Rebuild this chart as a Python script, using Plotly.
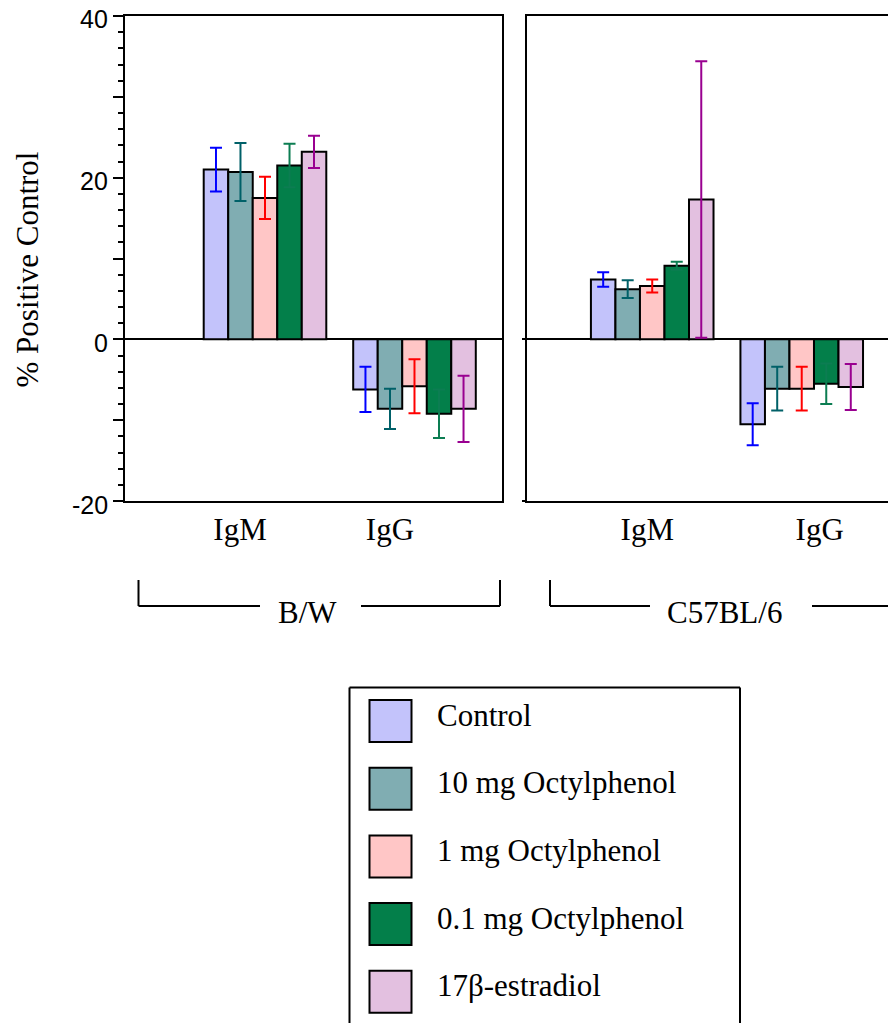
import plotly.graph_objects as go

# ---------------- data ----------------
categories = ["IgM", "IgG"]
series_names = ["Control", "10 mg Octylphenol", "1 mg Octylphenol",
                "0.1 mg Octylphenol", "17\u03b2-estradiol"]
fill_colors = ["#C3C3FB", "#80ADB2", "#FFC6C6", "#037F4A", "#E3C0E0"]
err_colors = ["#0000FF", "#006068", "#FF0000", "#0C7D52", "#990090"]

# B/W strain: mean and error for each series (order as series_names)
bw_igm = [21.0, 20.7, 17.5, 21.5, 23.2]
bw_igm_err = [2.7, 3.6, 2.6, 2.7, 2.0]
bw_igg = [-6.2, -8.6, -5.8, -9.2, -8.6]
bw_igg_err = [2.8, 2.5, 3.35, 3.0, 4.1]

# C57BL/6 strain
c57_igm = [7.4, 6.2, 6.6, 9.1, 17.3]
c57_igm_err = [0.9, 1.1, 0.8, 0.5, 17.1]
c57_igg = [-10.5, -6.1, -6.1, -5.5, -5.9]
c57_igg_err = [2.6, 2.7, 2.7, 2.5, 2.85]

group_pos = [1, 2]
bw_label_pos = [0.833, 1.836]
c57_label_pos = [0.967, 2.12]
strain_names = ["B/W", "C57BL/6"]

y_tickvals = [-20, -10, 0, 10, 20, 30, 40]
y_label_vals = [-20, 0, 20, 40]
y_label_text = ["-20", "0", "20", "40"]

# ---------------- layout helpers ----------------
# the page body margin is removed by a post script, so figure = window
W, H = 888, 1023
def px(x):
    return x / W
def py(y):
    return 1 - y / H

SERIF = "Liberation Serif, Times New Roman, serif"
SANS = "Liberation Sans, Arial, sans-serif"

fig = go.Figure()

for i, name in enumerate(series_names):
    fig.add_trace(go.Bar(
        x=group_pos, y=[bw_igm[i], bw_igg[i]], name=name,
        marker=dict(color=fill_colors[i], line=dict(color="black", width=2)),
        error_y=dict(type="data", array=[bw_igm_err[i], bw_igg_err[i]],
                     color=err_colors[i], thickness=2, width=6),
        xaxis="x", yaxis="y", showlegend=False, offsetgroup=str(i)))
for i, name in enumerate(series_names):
    fig.add_trace(go.Bar(
        x=group_pos, y=[c57_igm[i], c57_igg[i]], name=name,
        marker=dict(color=fill_colors[i], line=dict(color="black", width=2)),
        error_y=dict(type="data", array=[c57_igm_err[i], c57_igg_err[i]],
                     color=err_colors[i], thickness=2, width=6),
        xaxis="x2", yaxis="y2", showlegend=False, offsetgroup=str(i)))

ydom = [py(501), py(16)]
common_x = dict(showline=True, linecolor="black", linewidth=2, mirror=True,
                ticks="", showgrid=False, zeroline=False,
                tickfont=dict(family=SERIF, size=31, color="black"))

fig.update_layout(
    width=W, height=H,
    margin=dict(l=0, r=0, t=0, b=0),
    template="none",
    paper_bgcolor="white", plot_bgcolor="white",
    barmode="group", bargap=0.18, bargroupgap=0,
    showlegend=False,
    xaxis=dict(domain=[px(125), px(501.5)], range=[0.0635, 2.582],
               tickvals=bw_label_pos, ticktext=categories, anchor="y",
               **common_x),
    xaxis2=dict(domain=[px(527), 1.0], range=[0.1625, 2.577],
                tickvals=c57_label_pos, ticktext=categories, anchor="y2",
                **common_x),
    yaxis=dict(domain=ydom, range=[-20, 40], anchor="x",
               showline=True, linecolor="black", linewidth=2, mirror=True,
               showgrid=False, zeroline=True, zerolinecolor="black",
               zerolinewidth=2, showticklabels=False,
               tickvals=y_tickvals,
               ticks="outside", ticklen=10, tickwidth=2, tickcolor="black",
               minor=dict(dtick=2, ticks="outside", ticklen=5, tickwidth=2,
                          tickcolor="black", showgrid=False)),
    yaxis2=dict(domain=ydom, range=[-20, 40], anchor="x2",
                showline=True, linecolor="black", linewidth=2, mirror=False,
                showgrid=False, zeroline=True, zerolinecolor="black",
                zerolinewidth=2, showticklabels=False,
                tickvals=[-20, 0], ticks="outside", ticklen=3, tickwidth=2,
                tickcolor="black"),
)

shapes = []
annotations = []

# y tick labels (placed on the y scale, slightly below the tick like the original)
for v, t in zip(y_label_vals, y_label_text):
    annotations.append(dict(text=t, x=px(110), y=v, xref="paper", yref="y",
                            yshift=-3.5, showarrow=False,
                            font=dict(family=SANS, size=25, color="black"),
                            xanchor="right", yanchor="middle"))

# y-axis title
annotations.append(dict(
    text="% Positive Control", x=px(26.5), y=py(270), xref="paper",
    yref="paper", textangle=-90, showarrow=False,
    font=dict(family=SERIF, size=31, color="black"),
    xanchor="center", yanchor="middle"))

# strain brackets
def line(x0, y0, x1, y1):
    shapes.append(dict(type="line", xref="paper", yref="paper",
                       x0=px(x0), y0=py(y0), x1=px(x1), y1=py(y1),
                       line=dict(color="black", width=2)))

# B/W
line(138.5, 580, 138.5, 606)
line(138.5, 606, 260, 606)
line(361, 606, 500, 606)
line(500, 580, 500, 606)
annotations.append(dict(text=strain_names[0], x=px(307), y=py(612),
                        xref="paper", yref="paper", showarrow=False,
                        font=dict(family=SERIF, size=31, color="black"),
                        xanchor="center", yanchor="middle"))
# C57BL/6
line(550, 580, 550, 606)
line(550, 606, 650, 606)
line(812, 606, 900, 606)
annotations.append(dict(text=strain_names[1], x=px(724), y=py(612),
                        xref="paper", yref="paper", showarrow=False,
                        font=dict(family=SERIF, size=31, color="black"),
                        xanchor="center", yanchor="middle"))

# legend box
line(349.5, 687.5, 740, 687.5)
line(349.5, 687.5, 349.5, 1040)
line(740, 687.5, 740, 1040)
for k, name in enumerate(series_names):
    y0 = 700 + k * 67.7
    shapes.append(dict(type="rect", xref="paper", yref="paper",
                       x0=px(369.5), x1=px(411.5), y0=py(y0), y1=py(y0 + 42),
                       fillcolor=fill_colors[k],
                       line=dict(color="black", width=2)))
    annotations.append(dict(text=name, x=px(435), y=py(y0 + 21 - 6),
                            xref="paper", yref="paper", showarrow=False,
                            font=dict(family=SERIF, size=31, color="black"),
                            xanchor="left", yanchor="middle"))

fig.update_layout(shapes=shapes, annotations=annotations)
fig.write_html("out.html",
               config={"displayModeBar": False},
               post_script="document.body.style.margin='0px';"
                           "document.body.style.overflow='hidden';")
